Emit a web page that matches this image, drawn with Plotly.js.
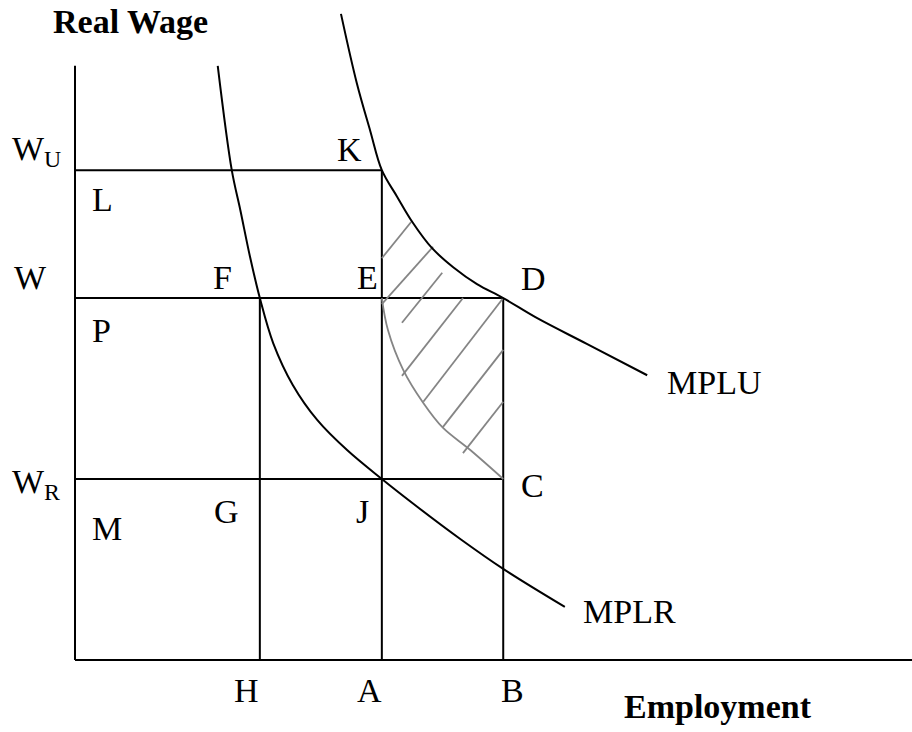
<!DOCTYPE html>
<html>
<head>
<meta charset="utf-8">
<script src="https://cdn.plot.ly/plotly-3.0.1.min.js"></script>
<style>
    html, body { margin: 0; padding: 0; background: #ffffff; }
    #chart { width: 912px; height: 732px; }
</style>
</head>
<body>
<div id="chart"></div>
<script>
// Employment levels on the horizontal axis
const employmentNames = ['H', 'A', 'B'];
const employmentLevels = [3.03, 5.03, 7.02];

// Real wage levels on the vertical axis
const wageNames = ['W<sub>U</sub>', 'W', 'W<sub>R</sub>'];
const wageLevels = [8.12, 6.0, 3.0];

// Marginal product of labour, unionised sector
const mpluX = [4.36, 4.62, 4.84, 5.03, 5.28, 5.53, 5.85, 6.20, 6.59, 7.02, 7.57, 8.39, 9.38];
const mpluY = [10.71, 9.56, 8.77, 8.12, 7.68, 7.26, 6.83, 6.51, 6.23, 6.00, 5.67, 5.24, 4.72];

// Marginal product of labour, rest of economy
const mplrX = [2.34, 2.57, 2.71, 2.87, 3.03, 3.25, 3.57, 3.97, 4.46, 5.03, 5.61, 6.31, 7.02, 8.03];
const mplrY = [9.85, 8.12, 7.46, 6.68, 6.00, 5.25, 4.56, 3.98, 3.48, 3.00, 2.54, 2.01, 1.51, 0.88];

// Grey curve bounding the shaded area (E down to C)
const lossX = [5.03, 5.13, 5.38, 5.71, 6.03, 6.48, 7.02];
const lossY = [6.00, 5.47, 4.81, 4.26, 3.85, 3.48, 3.00];

// Hatch strokes of the shaded area (start / end of each stroke)
const hatchX0 = [5.03, 5.03, 5.36, 5.36, 5.71, 6.03, 6.36];
const hatchY0 = [6.66, 5.90, 5.59, 4.71, 4.28, 3.86, 3.43];
const hatchX1 = [5.51, 5.87, 6.02, 6.36, 7.02, 7.02, 7.02];
const hatchY1 = [7.26, 6.85, 6.42, 6.00, 6.00, 5.14, 4.28];

// Point names
const pointNames = ['K', 'L', 'F', 'E', 'D', 'P', 'M', 'G', 'J', 'C'];

const axisTop = 9.85;
const axisRight = 13.8;

const serif = 'Liberation Serif, Times New Roman, serif';
const black = '#000000';
const grey = '#858585';

const H = employmentLevels[0], A = employmentLevels[1], B = employmentLevels[2];
const WU = wageLevels[0], W = wageLevels[1], WR = wageLevels[2];

function segment(x0, y0, x1, y1, color, width) {
    return {
        x: [x0, x1], y: [y0, y1],
        type: 'scatter', mode: 'lines',
        line: { color: color, width: width },
        hoverinfo: 'skip'
    };
}

const traces = [];

// axes
traces.push(segment(0, 0, 0, axisTop, black, 2));
traces.push(segment(0, 0, axisRight, 0, black, 2));

// wage lines (W_U stops at A, W and W_R stop at B)
const wageReach = [A, B, B];
wageLevels.forEach((w, i) => traces.push(segment(0, w, wageReach[i], w, black, 2)));

// employment lines (H and B rise to W, A rises to W_U)
const employmentReach = [W, WU, W];
employmentLevels.forEach((e, i) => traces.push(segment(e, 0, e, employmentReach[i], black, 2)));

// hatching
const hx = [], hy = [];
hatchX0.forEach((x0, i) => {
    hx.push(x0, hatchX1[i], null);
    hy.push(hatchY0[i], hatchY1[i], null);
});
traces.push({
    x: hx, y: hy, type: 'scatter', mode: 'lines',
    line: { color: grey, width: 1.8 }, hoverinfo: 'skip'
});

// grey curve
traces.push({
    x: lossX, y: lossY, type: 'scatter', mode: 'lines',
    line: { color: grey, width: 1.8, shape: 'spline', smoothing: 1 }, hoverinfo: 'skip'
});

// labour demand curves
traces.push({
    x: mpluX, y: mpluY, type: 'scatter', mode: 'lines', name: 'MPLU',
    line: { color: black, width: 2, shape: 'spline', smoothing: 1 }, hoverinfo: 'skip'
});
traces.push({
    x: mplrX, y: mplrY, type: 'scatter', mode: 'lines', name: 'MPLR',
    line: { color: black, width: 2, shape: 'spline', smoothing: 1 }, hoverinfo: 'skip'
});

// Labels
const labelFont = { family: serif, size: 34, color: black };
const annotations = [];

function label(text, x, y, dx, dy, anchor) {
    annotations.push({
        text: text, x: x, y: y, xref: 'x', yref: 'y',
        xshift: dx, yshift: dy,
        xanchor: anchor || 'center', yanchor: 'middle',
        showarrow: false, font: labelFont
    });
}

// point labels: anchor point and pixel offset
const pointAnchors = [[A, WU], [0, WU], [H, W], [A, W], [B, W], [0, W], [0, WR], [H, WR], [A, WR], [B, WR]];
const pointOffsets = [[-32, 21], [27, -29], [-37, 21], [-14, 21], [30, 20], [26, -32], [32, -49], [-33, -32], [-19, -32], [29, -6]];
pointNames.forEach((n, i) => label(n, pointAnchors[i][0], pointAnchors[i][1], pointOffsets[i][0], pointOffsets[i][1]));

// wage names left of the axis
const wageOffsets = [[-65, 19], [-63, 21], [-65, -5]];
wageNames.forEach((n, i) => label(n, 0, wageLevels[i], wageOffsets[i][0], wageOffsets[i][1], 'left'));

// employment names under the axis
const employmentOffsets = [[-13, -30], [-12, -30], [9, -30]];
employmentNames.forEach((n, i) => label(n, employmentLevels[i], 0, employmentOffsets[i][0], employmentOffsets[i][1]));

// curve names
label('MPLU', mpluX[mpluX.length - 1], mpluY[mpluY.length - 1], 18, -7, 'left');
label('MPLR', mplrX[mplrX.length - 1], mplrY[mplrY.length - 1], 16, -5, 'left');

// axis titles
annotations.push({
    text: '<b>Real Wage</b>', xref: 'paper', yref: 'paper', x: 0.1436, y: 0.9706,
    xanchor: 'center', yanchor: 'middle', showarrow: false,
    font: { family: serif, size: 34, color: black }
});
annotations.push({
    text: '<b>Employment</b>', xref: 'paper', yref: 'paper', x: 0.787, y: 0.0348,
    xanchor: 'center', yanchor: 'middle', showarrow: false,
    font: { family: serif, size: 34, color: black }
});

const layout = {
    width: 912,
    height: 732,
    margin: { t: 0, r: 0, b: 0, l: 0 },
    showlegend: false,
    paper_bgcolor: '#ffffff',
    plot_bgcolor: '#ffffff',
    xaxis: { range: [-1.2295, 13.721], visible: false, fixedrange: true },
    yaxis: { range: [-1.1934, 10.940], visible: false, fixedrange: true },
    annotations: annotations
};

Plotly.newPlot('chart', traces, layout, { staticPlot: true, displayModeBar: false });
</script>
</body>
</html>
